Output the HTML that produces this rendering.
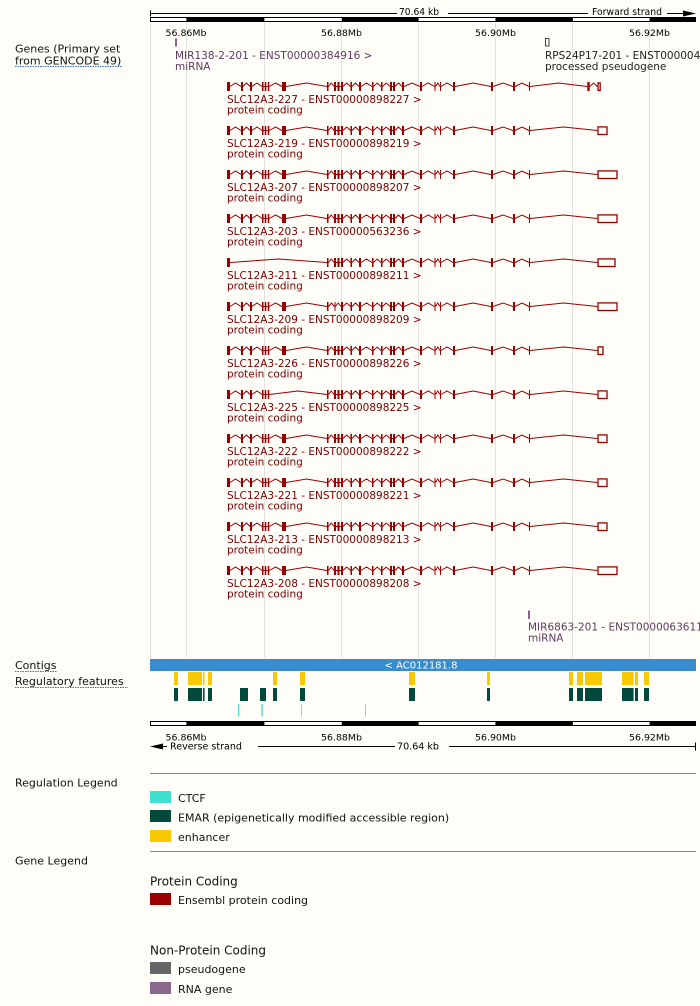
<!DOCTYPE html>
<html><head><meta charset="utf-8"><style>
html,body{margin:0;padding:0;background:#fefdf8;}
svg{display:block;font-family:"DejaVu Sans","Liberation Sans",sans-serif;}
</style></head><body>
<svg width="700" height="1006" viewBox="0 0 700 1006" xmlns="http://www.w3.org/2000/svg">
<defs>
  <g id="Lstd">
    <g fill="#990000">
      <rect x="227" y="-4.5" width="3" height="9"/>
      <rect x="241" y="-4.5" width="2" height="9"/>
      <rect x="250" y="-4.5" width="2" height="9"/>
      <rect x="262" y="-4.5" width="1.5" height="9"/>
      <rect x="264.8" y="-4.5" width="1.5" height="9"/>
      <rect x="267.8" y="-4.5" width="1.5" height="9"/>
      <rect x="282" y="-4.5" width="4" height="9"/>
    </g>
    <path d="M230,0 L235.5,-3.5 L241,0 M243,0 L246.5,-3.5 L250,0 M252,0 L257,-3.5 L262,0 M263.5,0 L264.8,0 M266.3,0 L267.8,0 M269.3,0 L275.6,-3.5 L282,0 M286,0 L306.5,-3.5 L327,0" fill="none" stroke="#990000" stroke-width="1"/>
  </g>
  <g id="L225">
    <g fill="#990000">
      <rect x="227" y="-4.5" width="3" height="9"/>
      <rect x="241" y="-4.5" width="2" height="9"/>
      <rect x="250" y="-4.5" width="2" height="9"/>
      <rect x="262" y="-4.5" width="1.5" height="9"/>
      <rect x="264.8" y="-4.5" width="1.5" height="9"/>
      <rect x="267.8" y="-4.5" width="1.5" height="9"/>
    </g>
    <path d="M230,0 L235.5,-3.5 L241,0 M243,0 L246.5,-3.5 L250,0 M252,0 L257,-3.5 L262,0 M263.5,0 L264.8,0 M266.3,0 L267.8,0 M269.3,0 L298,-3.5 L327,0" fill="none" stroke="#990000" stroke-width="1"/>
  </g>
  <g id="L211">
    <rect x="227" y="-4.5" width="3" height="9" fill="#990000"/>
    <path d="M230,0 L278.5,-3.5 L327,0" fill="none" stroke="#990000" stroke-width="1"/>
  </g>
  <g id="Mtail">
    <g fill="#990000">
      <rect x="350.5" y="-4.5" width="1.5" height="9"/>
      <rect x="359" y="-4.5" width="2" height="9"/>
      <rect x="372" y="-4.5" width="1.5" height="9"/>
      <rect x="381" y="-4.5" width="1.5" height="9"/>
      <rect x="390" y="-4.5" width="2" height="9"/>
      <rect x="393" y="-4.5" width="2" height="9"/>
      <rect x="402" y="-4.5" width="2" height="9"/>
      <rect x="420" y="-4.5" width="2" height="9"/>
      <rect x="434.5" y="-4.5" width="1" height="9"/>
      <rect x="440" y="-4.5" width="1" height="9"/>
      <rect x="453" y="-4.5" width="2" height="9"/>
      <rect x="491" y="-4.5" width="2" height="9"/>
      <rect x="513" y="-4.5" width="2" height="9"/>
      <rect x="529" y="-4.5" width="1" height="9"/>
    </g>
    <path d="M343,0 L346.7,-3.5 L350.5,0 M352,0 L355.5,-3.5 L359,0 M361,0 L366.5,-3.5 L372,0 M373.5,0 L377.2,-3.5 L381,0 M382.5,0 L386.2,-3.5 L390,0 M392,0 L393,0 M395,0 L398.5,-3.5 L402,0 M404,0 L412,-3.5 L420,0 M422,0 L428.2,-3.5 L434.5,0 M435.5,0 L437.7,-3.5 L440,0 M441,0 L447,-3.5 L453,0 M455,0 L473,-3.5 L491,0 M493,0 L503,-3.5 L513,0 M515,0 L522,-3.5 L529,0" fill="none" stroke="#990000" stroke-width="1"/>
  </g>
  <g id="Mstd">
    <g fill="#990000">
      <rect x="327" y="-4.5" width="1.5" height="9"/>
      <rect x="334" y="-4.5" width="2" height="9"/>
      <rect x="337.5" y="-4.5" width="2" height="9"/>
      <rect x="341" y="-4.5" width="2" height="9"/>
    </g>
    <path d="M328.5,0 L331.2,-3.5 L334,0 M336,0 L337.5,0 M339.5,0 L341,0" fill="none" stroke="#990000" stroke-width="1"/>
    <use href="#Mtail"/>
  </g>
  <g id="M209">
    <g fill="#990000">
      <rect x="327" y="-4.5" width="1.5" height="9"/>
      <rect x="334.5" y="-4.5" width="1" height="9"/>
      <rect x="341" y="-4.5" width="2" height="9"/>
    </g>
    <path d="M328.5,0 L331.5,-3.5 L334.5,0 M335.5,0 L338.2,-3.5 L341,0" fill="none" stroke="#990000" stroke-width="1"/>
    <use href="#Mtail"/>
  </g>
  <path id="Rline" d="M530,0 L563.6,-3.5 L597.3,0" fill="none" stroke="#990000" stroke-width="1"/>
</defs>

<!-- grid lines -->
<g stroke="#e4e2de" stroke-width="1">
  <line x1="150.5" y1="23" x2="150.5" y2="658"/>
  <line x1="186.5" y1="23" x2="186.5" y2="658"/>
  <line x1="264.5" y1="23" x2="264.5" y2="658"/>
  <line x1="341.5" y1="23" x2="341.5" y2="658"/>
  <line x1="418.5" y1="23" x2="418.5" y2="658"/>
  <line x1="495.5" y1="23" x2="495.5" y2="658"/>
  <line x1="572.5" y1="23" x2="572.5" y2="658"/>
  <line x1="649.5" y1="23" x2="649.5" y2="658"/>
</g>

<!-- top ruler -->
<g stroke="#000" stroke-width="1" fill="none">
  <path d="M150,13.5 H397 M448,13.5 H588 M667,13.5 H684 M150.5,10.5 V16.5"/>
</g>
<polygon points="683,10.5 696,13.5 683,16.5" fill="#000"/>
<text x="399" y="15" font-size="9.5" fill="#000" textLength="40" lengthAdjust="spacingAndGlyphs">70.64 kb</text>
<text x="592" y="15" font-size="9.3" fill="#000" textLength="70" lengthAdjust="spacingAndGlyphs">Forward strand</text>
<rect x="150.5" y="17.5" width="545" height="4" fill="#fff" stroke="#000" stroke-width="1"/>
<g fill="#000">
  <rect x="186.4" y="17.5" width="78" height="4"/>
  <rect x="341.8" y="17.5" width="76.8" height="4"/>
  <rect x="495.4" y="17.5" width="77.5" height="4"/>
  <rect x="649.6" y="17.5" width="46" height="4"/>
</g>
<g font-size="9" fill="#000" text-anchor="middle">
  <text x="186" y="36" textLength="41" lengthAdjust="spacingAndGlyphs">56.86Mb</text>
  <text x="341.5" y="36" textLength="41" lengthAdjust="spacingAndGlyphs">56.88Mb</text>
  <text x="495.5" y="36" textLength="41" lengthAdjust="spacingAndGlyphs">56.90Mb</text>
  <text x="649.5" y="36" textLength="41" lengthAdjust="spacingAndGlyphs">56.92Mb</text>
</g>

<!-- left track labels -->
<g font-size="11" fill="#111">
  <text x="15" y="52.5">Genes (Primary set</text>
  <text x="15" y="64.5">from GENCODE 49)</text>
  <text x="15" y="669">Contigs</text>
  <text x="15" y="685">Regulatory features</text>
  <text x="15" y="786.5">Regulation Legend</text>
  <text x="15" y="864.5">Gene Legend</text>
</g>
<g stroke="#3f6fc4" stroke-width="1" stroke-dasharray="1.5,1">
  <line x1="15" y1="66.5" x2="122" y2="66.5"/>
  <line x1="15" y1="671.5" x2="57" y2="671.5"/>
  <line x1="15" y1="687.5" x2="128" y2="687.5"/>
</g>

<!-- small genes -->
<rect x="175" y="38.5" width="2" height="8" fill="#8b668b"/>
<g font-size="10.5" fill="#5e3b5e">
  <text x="175" y="59">MIR138-2-201 - ENST00000384916 &gt;</text>
  <text x="175" y="70">miRNA</text>
</g>
<rect x="545.5" y="38.5" width="3.5" height="7.5" fill="none" stroke="#444" stroke-width="1"/>
<g font-size="10.5" fill="#222">
  <text x="545" y="59">RPS24P17-201 - ENST00000442543 &gt;</text>
  <text x="545" y="70">processed pseudogene</text>
</g>
<rect x="528" y="610.5" width="2" height="8.5" fill="#8b668b"/>
<g font-size="10.5" fill="#5e3b5e">
  <text x="528" y="630.5">MIR6863-201 - ENST00000636116 &gt;</text>
  <text x="528" y="641.5">miRNA</text>
</g>

<!-- transcripts -->
<g id="tx0" transform="translate(0,86.5)">
  <use href="#Lstd"/><use href="#Mstd"/>
  <path d="M530,0 L558.6,-3.5 L587.3,0 M589.7,0 L593.5,-3.5 L597.3,0" fill="none" stroke="#990000" stroke-width="1"/>
  <rect x="587.3" y="-4.5" width="2.4" height="9" fill="#990000"/>
  <rect x="598" y="-3.6" width="2.2" height="7.6" fill="none" stroke="#990000" stroke-width="1.3"/>
</g>
<g transform="translate(0,130.5)">
  <use href="#Lstd"/><use href="#Mstd"/><use href="#Rline"/>
  <rect x="598" y="-3.6" width="9" height="7.6" fill="none" stroke="#990000" stroke-width="1.3"/>
</g>
<g transform="translate(0,174.5)">
  <use href="#Lstd"/><use href="#Mstd"/><use href="#Rline"/>
  <rect x="598" y="-3.6" width="19" height="7.6" fill="none" stroke="#990000" stroke-width="1.3"/>
</g>
<g transform="translate(0,218.5)">
  <use href="#Lstd"/><use href="#Mstd"/><use href="#Rline"/>
  <rect x="598" y="-3.6" width="19" height="7.6" fill="none" stroke="#990000" stroke-width="1.3"/>
</g>
<g transform="translate(0,262.5)">
  <use href="#L211"/><use href="#Mstd"/><use href="#Rline"/>
  <rect x="598" y="-3.6" width="17" height="7.6" fill="none" stroke="#990000" stroke-width="1.3"/>
</g>
<g transform="translate(0,306.5)">
  <use href="#Lstd"/><use href="#M209"/><use href="#Rline"/>
  <rect x="598" y="-3.6" width="19" height="7.6" fill="none" stroke="#990000" stroke-width="1.3"/>
</g>
<g transform="translate(0,350.5)">
  <use href="#Lstd"/><use href="#Mstd"/><use href="#Rline"/>
  <rect x="598" y="-3.6" width="5" height="7.6" fill="none" stroke="#990000" stroke-width="1.3"/>
</g>
<g transform="translate(0,394.5)">
  <use href="#L225"/><use href="#Mstd"/><use href="#Rline"/>
  <rect x="598" y="-3.6" width="9" height="7.6" fill="none" stroke="#990000" stroke-width="1.3"/>
</g>
<g transform="translate(0,438.5)">
  <use href="#Lstd"/><use href="#Mstd"/><use href="#Rline"/>
  <rect x="598" y="-3.6" width="9" height="7.6" fill="none" stroke="#990000" stroke-width="1.3"/>
</g>
<g transform="translate(0,482.5)">
  <use href="#Lstd"/><use href="#Mstd"/><use href="#Rline"/>
  <rect x="598" y="-3.6" width="9" height="7.6" fill="none" stroke="#990000" stroke-width="1.3"/>
</g>
<g transform="translate(0,526.5)">
  <use href="#Lstd"/><use href="#Mstd"/><use href="#Rline"/>
  <rect x="598" y="-3.6" width="9" height="7.6" fill="none" stroke="#990000" stroke-width="1.3"/>
</g>
<g transform="translate(0,570.5)">
  <use href="#Lstd"/><use href="#Mstd"/><use href="#Rline"/>
  <rect x="598" y="-3.6" width="19" height="7.6" fill="none" stroke="#990000" stroke-width="1.3"/>
</g>

<g font-size="10.5" fill="#7a0000">
  <text x="227" y="103">SLC12A3-227 - ENST00000898227 &gt;</text>
  <text x="227" y="113.5">protein coding</text>
  <text x="227" y="147">SLC12A3-219 - ENST00000898219 &gt;</text>
  <text x="227" y="157.5">protein coding</text>
  <text x="227" y="191">SLC12A3-207 - ENST00000898207 &gt;</text>
  <text x="227" y="201.5">protein coding</text>
  <text x="227" y="235">SLC12A3-203 - ENST00000563236 &gt;</text>
  <text x="227" y="245.5">protein coding</text>
  <text x="227" y="279">SLC12A3-211 - ENST00000898211 &gt;</text>
  <text x="227" y="289.5">protein coding</text>
  <text x="227" y="323">SLC12A3-209 - ENST00000898209 &gt;</text>
  <text x="227" y="333.5">protein coding</text>
  <text x="227" y="367">SLC12A3-226 - ENST00000898226 &gt;</text>
  <text x="227" y="377.5">protein coding</text>
  <text x="227" y="411">SLC12A3-225 - ENST00000898225 &gt;</text>
  <text x="227" y="421.5">protein coding</text>
  <text x="227" y="455">SLC12A3-222 - ENST00000898222 &gt;</text>
  <text x="227" y="465.5">protein coding</text>
  <text x="227" y="499">SLC12A3-221 - ENST00000898221 &gt;</text>
  <text x="227" y="509.5">protein coding</text>
  <text x="227" y="543">SLC12A3-213 - ENST00000898213 &gt;</text>
  <text x="227" y="553.5">protein coding</text>
  <text x="227" y="587">SLC12A3-208 - ENST00000898208 &gt;</text>
  <text x="227" y="597.5">protein coding</text>
</g>

<!-- contig -->
<rect x="150" y="659" width="546" height="12" fill="#3a8dcc"/>
<text x="421" y="668.5" font-size="10" fill="#fff" text-anchor="middle">&lt; AC012181.8</text>

<!-- regulatory: enhancers -->
<g fill="#f8c800">
  <rect x="174" y="672" width="4" height="13"/>
  <rect x="188" y="672" width="14" height="13"/>
  <rect x="203" y="672" width="1.6" height="13"/>
  <rect x="208" y="672" width="4" height="13"/>
  <rect x="273" y="672" width="4" height="13"/>
  <rect x="300" y="672" width="5" height="13"/>
  <rect x="409" y="672" width="6" height="13"/>
  <rect x="487" y="672" width="3" height="13"/>
  <rect x="569" y="672" width="4" height="13"/>
  <rect x="577" y="672" width="6" height="13"/>
  <rect x="585" y="672" width="17" height="13"/>
  <rect x="622" y="672" width="11.6" height="13"/>
  <rect x="635" y="672" width="3" height="13"/>
  <rect x="644" y="672" width="5" height="13"/>
</g>
<!-- EMARs -->
<g fill="#01493b">
  <rect x="174" y="688" width="4" height="13"/>
  <rect x="188" y="688" width="14" height="13"/>
  <rect x="203" y="688" width="1.6" height="13"/>
  <rect x="208" y="688" width="4" height="13"/>
  <rect x="240" y="688" width="8" height="13"/>
  <rect x="260" y="688" width="6" height="13"/>
  <rect x="273" y="688" width="4" height="13"/>
  <rect x="300" y="688" width="5" height="13"/>
  <rect x="409" y="688" width="6" height="13"/>
  <rect x="487" y="688" width="3" height="13"/>
  <rect x="569" y="688" width="4" height="13"/>
  <rect x="577" y="688" width="6" height="13"/>
  <rect x="585" y="688" width="17" height="13"/>
  <rect x="622" y="688" width="11.6" height="13"/>
  <rect x="635" y="688" width="3" height="13"/>
  <rect x="644" y="688" width="5" height="13"/>
</g>
<!-- CTCF -->
<rect x="238" y="704" width="1" height="12.5" fill="#40e0d0"/>
<rect x="261.3" y="704" width="1.4" height="12.5" fill="#40e0d0"/>
<rect x="301" y="704" width="1" height="12.5" fill="#9fcfca"/>
<rect x="365" y="704" width="1" height="12.5" fill="#a9c9c6"/>

<!-- bottom ruler -->
<rect x="150.5" y="721.5" width="545" height="4" fill="#fff" stroke="#000" stroke-width="1"/>
<g fill="#000">
  <rect x="186.4" y="721.5" width="78" height="4"/>
  <rect x="341.8" y="721.5" width="76.8" height="4"/>
  <rect x="495.4" y="721.5" width="77.5" height="4"/>
  <rect x="649.6" y="721.5" width="46" height="4"/>
</g>
<g font-size="9" fill="#000" text-anchor="middle">
  <text x="186" y="740.5" textLength="41" lengthAdjust="spacingAndGlyphs">56.86Mb</text>
  <text x="341.5" y="740.5" textLength="41" lengthAdjust="spacingAndGlyphs">56.88Mb</text>
  <text x="495.5" y="740.5" textLength="41" lengthAdjust="spacingAndGlyphs">56.90Mb</text>
  <text x="649.5" y="740.5" textLength="41" lengthAdjust="spacingAndGlyphs">56.92Mb</text>
</g>
<polygon points="150,746.5 163,743.5 163,749.5" fill="#000"/>
<g stroke="#000" stroke-width="1" fill="none">
  <path d="M160,746.5 H167 M258,746.5 H395 M449,746.5 H695 M695.5,742.5 V750.5"/>
</g>
<text x="170" y="749.5" font-size="9.3" fill="#000" textLength="72" lengthAdjust="spacingAndGlyphs">Reverse strand</text>
<text x="397" y="749.5" font-size="9.5" fill="#000" textLength="42" lengthAdjust="spacingAndGlyphs">70.64 kb</text>

<!-- legends -->
<g stroke="#888" stroke-width="1">
  <line x1="150" y1="773.5" x2="696" y2="773.5"/>
  <line x1="150" y1="851.5" x2="696" y2="851.5"/>
</g>
<rect x="150" y="791" width="21" height="12" fill="#40e0d0"/>
<rect x="150" y="810" width="21" height="12" fill="#01493b"/>
<rect x="150" y="830" width="21" height="12" fill="#f8c800"/>
<rect x="150" y="893" width="21" height="12" fill="#9a0000"/>
<rect x="150" y="962" width="21" height="12" fill="#666666"/>
<rect x="150" y="982" width="21" height="12" fill="#8b688b"/>
<g font-size="11" fill="#111">
  <text x="178" y="802">CTCF</text>
  <text x="178" y="821.5">EMAR (epigenetically modified accessible region)</text>
  <text x="178" y="841">enhancer</text>
  <text x="178" y="904">Ensembl protein coding</text>
  <text x="178" y="973">pseudogene</text>
  <text x="178" y="993">RNA gene</text>
</g>
<g font-size="12" fill="#111">
  <text x="150" y="885.5">Protein Coding</text>
  <text x="150" y="954.5">Non-Protein Coding</text>
</g>
</svg>
</body></html>
